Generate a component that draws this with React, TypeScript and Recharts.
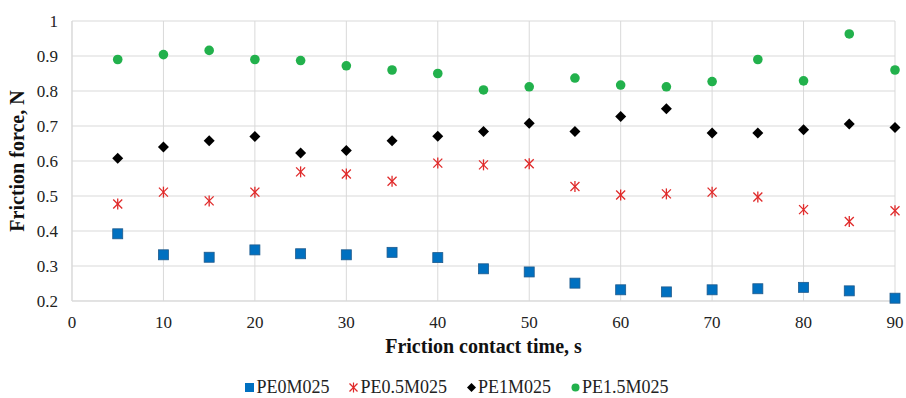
import React from 'react';
import { ScatterChart, Scatter, XAxis, YAxis, CartesianGrid, Legend } from 'recharts';

const times = [5, 10, 15, 20, 25, 30, 35, 40, 45, 50, 55, 60, 65, 70, 75, 80, 85, 90];
const pe0 = [0.392, 0.332, 0.325, 0.346, 0.335, 0.332, 0.339, 0.324, 0.292, 0.283, 0.251, 0.232, 0.226, 0.232, 0.235, 0.239, 0.229, 0.208];
const pe05 = [0.477, 0.511, 0.486, 0.511, 0.569, 0.563, 0.542, 0.594, 0.589, 0.592, 0.527, 0.503, 0.506, 0.511, 0.497, 0.461, 0.427, 0.458];
const pe1 = [0.608, 0.640, 0.658, 0.670, 0.623, 0.630, 0.658, 0.671, 0.684, 0.708, 0.684, 0.727, 0.749, 0.680, 0.680, 0.689, 0.706, 0.696];
const pe15 = [0.890, 0.904, 0.916, 0.890, 0.887, 0.872, 0.860, 0.850, 0.803, 0.812, 0.837, 0.817, 0.812, 0.827, 0.890, 0.829, 0.963, 0.860];
const xTicks = [0, 10, 20, 30, 40, 50, 60, 70, 80, 90];
const yTicks = [0.2, 0.3, 0.4, 0.5, 0.6, 0.7, 0.8, 0.9, 1];
const seriesNames = ['PE0M025', 'PE0.5M025', 'PE1M025', 'PE1.5M025'];

const BLUE = '#0070C0';
const RED = '#E02A2A';
const GREEN = '#22B14C';
const BLACK = '#000000';
const FONT = '"Liberation Serif", "Times New Roman", serif';

const toPts = (ys: number[]) => times.map((t, i) => ({ x: t, y: ys[i] }));

const Square = (p: any) => (
  <rect x={p.cx - 5} y={p.cy - 5} width={10} height={10} fill={BLUE} stroke="#1F5A8C" strokeWidth={0.8} />
);
const Star = (p: any) => (
  <g stroke={RED} strokeWidth={1.3}>
    <line x1={p.cx - 4.5} y1={p.cy - 4.5} x2={p.cx + 4.5} y2={p.cy + 4.5} />
    <line x1={p.cx - 4.5} y1={p.cy + 4.5} x2={p.cx + 4.5} y2={p.cy - 4.5} />
    <line x1={p.cx} y1={p.cy - 5.5} x2={p.cx} y2={p.cy + 5.5} />
  </g>
);
const Diamond = (p: any) => (
  <polygon points={`${p.cx},${p.cy - 5.5} ${p.cx + 5.5},${p.cy} ${p.cx},${p.cy + 5.5} ${p.cx - 5.5},${p.cy}`} fill={BLACK} />
);
const Dot = (p: any) => <circle cx={p.cx} cy={p.cy} r={4.8} fill={GREEN} />;

const LegendContent = () => {
  const items = [
    { name: seriesNames[0], icon: <rect x={1} y={3} width={9} height={9} fill={BLUE} /> },
    { name: seriesNames[1], icon: (
      <g stroke={RED} strokeWidth={1.2}>
        <line x1={1.5} y1={3.5} x2={9.5} y2={11.5} />
        <line x1={1.5} y1={11.5} x2={9.5} y2={3.5} />
        <line x1={5.5} y1={2.5} x2={5.5} y2={12.5} />
      </g>
    ) },
    { name: seriesNames[2], icon: <polygon points="5.5,3 10,7.5 5.5,12 1,7.5" fill={BLACK} /> },
    { name: seriesNames[3], icon: <circle cx={5.5} cy={7.5} r={4} fill={GREEN} /> },
  ];
  return (
    <div style={{ display: 'flex', justifyContent: 'center', gap: 19, fontFamily: FONT, fontSize: 18, lineHeight: 'normal', color: '#222', marginLeft: 0, marginRight: 4, marginTop: 16 }}>
      {items.map((it) => (
        <div key={it.name} style={{ display: 'flex', alignItems: 'center' }}>
          <svg width={11} height={15} style={{ marginRight: 1 }}>{it.icon}</svg>
          <span>{it.name}</span>
        </div>
      ))}
    </div>
  );
};

export default function App() {
  return (
    <div style={{ position: 'absolute', left: 0, top: 0, background: '#fff' }}>
      <ScatterChart width={906} height={398} margin={{ top: 21, right: 11, bottom: 0, left: 22 }}>
        <CartesianGrid stroke="#d9d9d9" strokeWidth={1} />
        <XAxis
          type="number"
          dataKey="x"
          domain={[0, 90]}
          ticks={xTicks}
          height={60}
          axisLine={{ stroke: '#d9d9d9' }}
          tickLine={false}
          tick={{ fontFamily: FONT, fontSize: 17, fill: '#222' }}
          tickMargin={9}
          label={{ value: 'Friction contact time, s', position: 'insideBottom', offset: 8, style: { fontFamily: FONT, fontSize: 20, fontWeight: 'bold', fill: '#111' } }}
        />
        <YAxis
          type="number"
          dataKey="y"
          domain={[0.2, 1]}
          ticks={yTicks}
          width={50}
          axisLine={{ stroke: '#d9d9d9' }}
          tickLine={false}
          tick={{ fontFamily: FONT, fontSize: 17, fill: '#222' }}
          tickFormatter={(v: number) => String(Math.round(v * 10) / 10)}
          tickMargin={8}
          label={{ value: 'Friction force, N', angle: -90, position: 'insideLeft', offset: -5, style: { textAnchor: 'middle', fontFamily: FONT, fontSize: 20, fontWeight: 'bold', fill: '#111' } }}
        />
        <Legend verticalAlign="bottom" height={37} content={<LegendContent />} />
        <Scatter name={seriesNames[0]} data={toPts(pe0)} shape={<Square />} isAnimationActive={false} />
        <Scatter name={seriesNames[1]} data={toPts(pe05)} shape={<Star />} isAnimationActive={false} />
        <Scatter name={seriesNames[2]} data={toPts(pe1)} shape={<Diamond />} isAnimationActive={false} />
        <Scatter name={seriesNames[3]} data={toPts(pe15)} shape={<Dot />} isAnimationActive={false} />
      </ScatterChart>
    </div>
  );
}
